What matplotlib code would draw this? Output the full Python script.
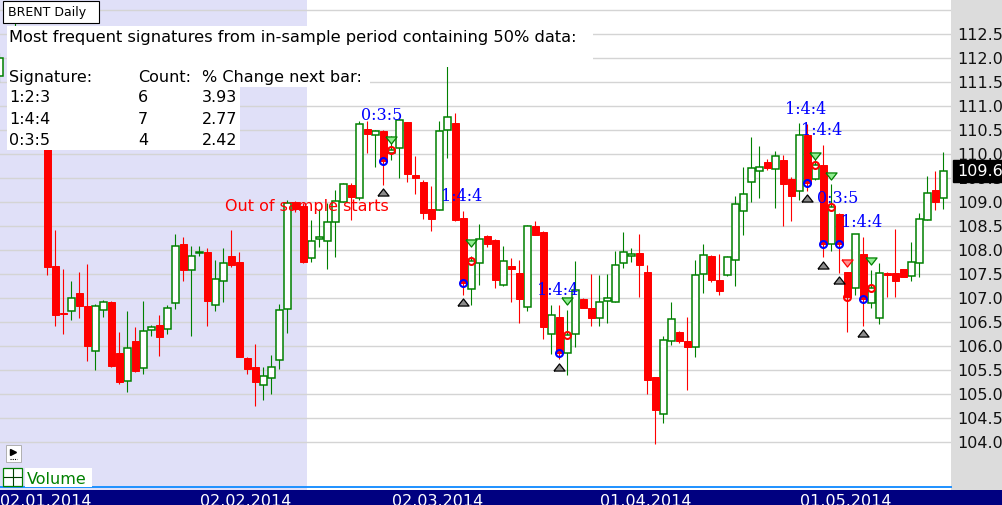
import numpy as np
import matplotlib
matplotlib.use("Agg")
import matplotlib.pyplot as plt
from matplotlib.patches import Rectangle
from matplotlib.lines import Line2D
from matplotlib.transforms import ScaledTranslation, blended_transform_factory

# Bar data (slot -1 = 02.01.2014, slot 0 empty); O, H, L, C
bar_idx = np.r_[-1, np.arange(1, 118)]
opens = np.array([
    111.62, 111.75, 112.35, 111.55, 111.85, 110.90, 107.66, 106.68, 106.72,
    107.10, 106.84, 105.90, 106.75, 106.92, 105.86, 105.27, 106.11, 105.54, 106.33,
    106.44, 106.35, 106.90, 108.13, 107.58, 107.93, 107.95, 106.86, 107.35, 107.87,
    107.76, 105.76, 105.57, 105.19, 105.34, 105.71, 106.77, 109.00, 108.92, 107.83,
    108.23, 108.18, 108.58, 109.01, 109.36, 109.08, 110.53, 110.40, 110.49, 110.03,
    110.12, 110.66, 109.57, 109.42, 108.85, 108.84, 110.51, 110.65, 108.67, 107.19,
    107.73, 108.30, 108.21, 107.28, 107.66, 107.53, 106.81, 108.51, 108.37, 106.26,
    106.60, 105.85, 106.25, 106.97, 106.80, 106.58, 106.93, 106.92, 107.73, 107.88,
    107.94, 107.55, 105.35, 104.58, 106.10, 106.29, 106.11, 105.99, 107.50, 107.88,
    107.38, 107.49, 107.80, 108.82, 109.42, 109.65, 109.84, 109.69, 109.88, 109.49,
    109.24, 110.40, 109.49, 109.78, 108.12, 108.76, 107.54, 107.21, 107.92, 106.90,
    106.58, 107.52, 107.52, 107.60, 107.45, 107.74, 108.63, 109.26, 109.08])
highs = np.array([
    112.10, 112.80, 112.50, 112.00, 111.95, 111.10, 108.42, 107.61, 107.35,
    107.55, 107.71, 106.88, 106.96, 106.93, 106.30, 106.72, 106.39, 106.94, 106.44,
    106.65, 106.85, 108.33, 108.27, 108.08, 108.09, 108.05, 107.80, 108.05, 108.42,
    107.95, 105.77, 106.05, 105.56, 105.81, 106.88, 109.05, 109.02, 108.98, 108.63,
    108.85, 108.98, 109.26, 109.39, 109.39, 110.68, 110.68, 110.51, 110.51, 110.37,
    110.75, 110.67, 109.96, 109.45, 109.34, 110.69, 111.84, 110.85, 108.82, 107.87,
    108.55, 108.32, 108.22, 108.09, 107.83, 107.80, 108.52, 108.60, 108.40, 106.86,
    106.86, 106.76, 107.78, 107.00, 107.51, 107.49, 107.51, 107.98, 108.37, 108.04,
    108.34, 107.69, 105.36, 106.21, 106.91, 106.31, 106.60, 107.80, 108.13, 107.89,
    107.92, 107.88, 109.13, 109.73, 110.35, 110.17, 109.90, 110.06, 109.98, 109.53,
    110.65, 110.63, 109.90, 110.19, 109.37, 108.77, 107.55, 108.33, 108.27, 107.58,
    107.73, 107.55, 108.44, 107.61, 108.17, 108.77, 109.55, 109.65, 110.05])
lows = np.array([
    111.50, 111.60, 111.40, 111.30, 110.70, 107.47, 106.42, 106.26, 106.55,
    106.59, 105.68, 105.49, 106.60, 105.57, 105.20, 105.05, 105.45, 105.42, 106.21,
    105.80, 106.26, 106.77, 107.35, 106.21, 107.88, 106.42, 106.74, 106.91, 107.65,
    105.77, 105.42, 104.76, 104.87, 104.99, 105.53, 106.28, 108.80, 107.73, 107.75,
    108.06, 107.61, 107.85, 109.00, 108.62, 109.05, 110.02, 109.74, 109.36, 109.88,
    109.50, 109.41, 109.17, 108.65, 108.39, 108.83, 109.92, 108.60, 107.07, 106.85,
    107.28, 108.07, 107.21, 107.26, 106.92, 106.49, 106.74, 108.31, 106.15, 105.84,
    105.72, 105.40, 105.99, 106.79, 106.42, 106.42, 106.48, 106.91, 107.63, 107.76,
    107.03, 105.01, 103.96, 104.40, 106.03, 106.06, 105.09, 105.78, 107.10, 107.33,
    107.07, 107.45, 107.26, 108.32, 109.00, 109.08, 109.66, 108.87, 108.51, 108.60,
    109.05, 109.24, 109.45, 107.85, 107.99, 107.53, 106.30, 107.07, 106.42, 106.80,
    106.46, 107.03, 107.03, 107.43, 107.35, 107.43, 108.62, 108.83, 108.86])
closes = np.array([
    112.00, 112.35, 111.55, 111.85, 110.90, 107.65, 106.64, 106.67, 107.00,
    106.83, 106.00, 106.84, 106.92, 105.58, 105.24, 105.96, 105.47, 106.31, 106.40,
    106.18, 106.79, 108.08, 107.58, 107.88, 107.95, 106.93, 107.40, 107.74, 107.68,
    105.78, 105.53, 105.26, 105.37, 105.56, 106.75, 108.98, 108.86, 107.76, 108.18,
    108.27, 108.58, 109.03, 109.37, 109.10, 110.62, 110.42, 110.49, 109.85, 110.09,
    110.72, 109.58, 109.50, 108.77, 108.65, 110.48, 110.77, 108.62, 107.31, 107.78,
    108.23, 108.12, 107.38, 107.78, 107.60, 106.98, 108.51, 108.32, 106.40, 106.64,
    105.85, 106.24, 107.17, 106.80, 106.58, 106.92, 107.00, 107.69, 107.96, 107.92,
    107.68, 105.30, 104.67, 106.13, 106.56, 106.10, 105.97, 107.48, 107.89, 107.37,
    107.14, 107.85, 108.96, 109.17, 109.71, 109.74, 109.70, 109.95, 109.37, 109.12,
    110.40, 109.40, 109.78, 108.12, 108.90, 108.12, 107.03, 108.33, 106.98, 107.21,
    107.52, 107.49, 107.35, 107.44, 107.76, 108.65, 109.19, 109.01, 109.64])

# Signature signals found in the out-of-sample part
signal_idx = [47, 57, 69, 100, 102, 104, 107]
signal_labels = ["0:3:5", "1:4:4", "1:4:4", "1:4:4", "1:4:4", "0:3:5", "1:4:4"]
next_idx = [48, 58, 70, 101, 103, 105, 108]
next_tri = [110.30, 108.15, 106.93, 109.95, 109.55, 107.74, 107.77]
next_up = [True, True, True, True, True, False, True]

split_idx = 37.45  # in-sample / out-of-sample border

date_idx = [-1, 24, 48, 74, 99]
date_labels = ["02.01.2014", "02.02.2014", "02.03.2014", "01.04.2014", "01.05.2014"]

table_header = "Most frequent signatures from in-sample period containing 50% data:"
table_cols = ["Signature:", "Count:", "% Change next bar:"]
table_rows = [["1:2:3", "6", "3.93"],
              ["1:4:4", "7", "2.77"],
              ["0:3:5", "4", "2.42"]]

W, H = 1002, 505
GREEN = "#008000"
RED = "#FF0000"
FS = 11.5


def fx(x):
    return x / W


def fy(y):
    return 1 - y / H


def fig_rect(fig, x0, y0, x1, y1, **kw):
    r = Rectangle((fx(x0), fy(y1)), (x1 - x0) / W, (y1 - y0) / H,
                  transform=fig.transFigure, **kw)
    fig.add_artist(r)
    return r


fig = plt.figure(figsize=(W / 100, H / 100), dpi=100)
fig.patch.set_facecolor("white")

# right price scale panel and date band
fig_rect(fig, 951, 0, W, 490, fc="#DCDCDC", ec="none", zorder=-2)
fig_rect(fig, 0, 490, W, H, fc="#000080", ec="none", zorder=-2)

ax = fig.add_axes([0, fy(490), 951 / W, 490 / H])
ax.set_facecolor("white")
ax.set_xlim(-0.925, 117.95)
ax.set_ylim(103.0, 113.21)
for s in ax.spines.values():
    s.set_visible(False)
ax.set_xticks([])
yt = np.arange(104.0, 113.01, 0.5)
ax.set_yticks(yt)
ax.set_yticklabels([f"{v:.1f}" if v < 112.9 else "" for v in yt])
ax.yaxis.tick_right()
ax.tick_params(axis="y", length=0, pad=4.3, labelsize=FS, labelcolor="#111111")
ax.grid(axis="y", color="#D4D4D4", lw=1.0, zorder=0.5)
ax.set_axisbelow(True)

ax.axvspan(-3, split_idx, color="#E0E0F8", lw=0, zorder=0)

# candles
up = closes >= opens
ax.vlines(bar_idx, lows, highs, colors=np.where(up, GREEN, RED), lw=0.8, zorder=2)
ax.bar(bar_idx[up], closes[up] - opens[up], bottom=opens[up], width=0.8,
       fc="white", ec=GREEN, lw=1.1, zorder=3)
ax.bar(bar_idx[~up], opens[~up] - closes[~up], bottom=closes[~up], width=0.8,
       fc=RED, ec=RED, lw=0.7, zorder=3)

# signal markers
below = ax.transData + ScaledTranslation(0, -0.075, fig.dpi_scale_trans)
tri_up = [(-5.5, -3.5), (5.5, -3.5), (0, 3.5), (-5.5, -3.5)]
tri_dn = [(-5.5, 3.5), (5.5, 3.5), (0, -3.5), (-5.5, 3.5)]
pos = {k: i for i, k in enumerate(bar_idx)}
for k, lbl in zip(signal_idx, signal_labels):
    i = pos[k]
    ax.plot(k, closes[i], "o", ms=5, mfc="none", mec="#0000FF", mew=1.5, zorder=5)
    ax.plot(k, lows[i], marker=tri_up, ms=8, mfc="#8C8C8C", mec="black", mew=0.9,
            transform=below, zorder=5)
    ax.annotate(lbl, (k, highs[i]), xytext=(-1.1, 10.3), textcoords="offset points",
                ha="center", va="center", color="#0000FF", fontsize=FS,
                family="DejaVu Serif", zorder=6)
for k, p, u in zip(next_idx, next_tri, next_up):
    i = pos[k]
    ax.plot(k, closes[i], "o", ms=5, mfc="none", mec=RED, mew=1.5, zorder=5)
    ax.plot(k, p, marker=tri_dn, ms=8, mfc="#90EE90" if u else "#FF9090",
            mec=GREEN if u else RED, mew=0.9, zorder=5)

ax.text(split_idx, 108.90, "Out of sample starts", color=RED, fontsize=FS,
        ha="center", va="center", zorder=6)

# last price tag
last_tf = blended_transform_factory(ax.transAxes, ax.transData)
ax.text(1 + 6 / 951, closes[-1], f"{np.floor(closes[-1] * 10) / 10:.1f}",
        transform=last_tf, ha="left", va="center", color="white", fontsize=FS,
        clip_on=False, zorder=7,
        bbox=dict(boxstyle="square,pad=0.22", fc="black", ec="black"))

# date labels on the navy band
date_tf = blended_transform_factory(ax.transData, fig.transFigure)
for k, d in zip(date_idx, date_labels):
    ax.text(k + 0.075, fy(505.5), d, transform=date_tf, color="white",
            fontsize=FS, ha="left", va="baseline", clip_on=False)

fig.add_artist(Line2D([0, 951 / W], [fy(486.5), fy(486.5)], color="#1E90FF",
                      lw=1.4, transform=fig.transFigure, zorder=2))

# statistics table (white text boxes)
fig_rect(fig, 7, 26, 593, 67, fc="white", ec="none", zorder=2)
fig_rect(fig, 7, 67, 370, 87, fc="white", ec="none", zorder=2)
fig_rect(fig, 7, 87, 240, 149.5, fc="white", ec="none", zorder=2)
fig.text(fx(9), fy(41.7), table_header, fontsize=11.7, va="baseline", zorder=3)
col_x = [9, 138, 202]
for cx, t in zip(col_x, table_cols):
    fig.text(fx(cx), fy(82.3), t, fontsize=FS, va="baseline", zorder=3)
for r, row in enumerate(table_rows):
    yb = 102.3 + r * 21.3
    for cx, t in zip(col_x, row):
        fig.text(fx(cx), fy(yb), t, fontsize=FS, va="baseline", zorder=3)

# chart title box
fig_rect(fig, 3, 1, 99, 23, fc="white", ec="black", lw=0.8, zorder=2)
fig.text(fx(7.5), fy(16.3), "BRENT Daily", fontsize=9, va="baseline", zorder=3)

# small play button
fig_rect(fig, 6, 445, 21, 462, fc="white", ec="#B0B0B0", lw=0.7, zorder=2)
fig.add_artist(Line2D([fx(12.5)], [fy(452)], marker=">", ms=5, color="black",
                      transform=fig.transFigure, zorder=3))
fig.add_artist(Line2D([fx(9.5), fx(17)], [fy(459), fy(459)], color="black", lw=0.8,
                      ls=(0, (1, 1)), transform=fig.transFigure, zorder=3))

# volume panel label
fig_rect(fig, 3.3, 468.3, 21.7, 485.5, fc="white", ec=GREEN, lw=0.9, zorder=2)
fig.add_artist(Line2D([fx(12.5), fx(12.5)], [fy(469), fy(485)], color="#004000", lw=0.8,
                      transform=fig.transFigure, zorder=3))
fig.add_artist(Line2D([fx(4), fx(21)], [fy(477), fy(477)], color="#004000", lw=0.8,
                      transform=fig.transFigure, zorder=3))
fig_rect(fig, 25, 468, 92, 487, fc="white", ec="none", zorder=2)
fig.text(fx(27), fy(483.5), "Volume", color=GREEN, fontsize=FS, va="baseline", zorder=3)

fig.savefig("out.png", dpi=100)
